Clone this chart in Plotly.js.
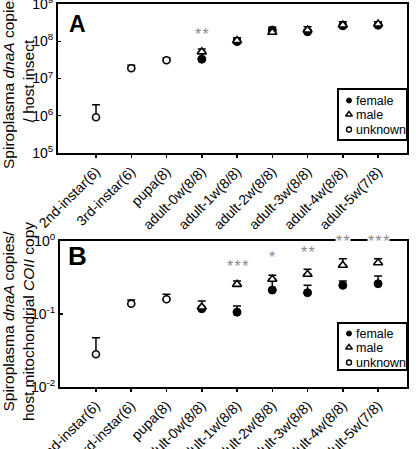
<!DOCTYPE html>
<html><head><meta charset="utf-8">
<script src="https://cdn.plot.ly/plotly-3.0.1.min.js"></script>
<style>html,body{margin:0;padding:0;background:#fff;}#chart{width:416px;height:449px;}</style>
</head><body><div id="chart"></div>
<script>
// ---------- data ----------
const categories = ['2nd-instar(6)','3rd-instar(6)','pupa(8)','adult-0w(8/8)','adult-1w(8/8)',
  'adult-2w(8/8)','adult-3w(8/8)','adult-4w(8/8)','adult-5w(7/8)'];
const seriesNames = ['female','male','unknown'];

// Panel A: Spiroplasma dnaA copies / host insect (mean, upper error)
const femaleA    = [null,null,null,3.3e7,9.8e7,2.0e8,1.8e8,2.6e8,2.7e8];
const femaleAErr = [null,null,null,1.5e7,1.5e7,3.7e7,2.0e7,1.5e7,2.0e7];
const maleA      = [null,null,null,5.2e7,1.04e8,1.74e8,2.0e8,2.73e8,2.9e8];
const maleAErr   = [null,null,null,1.0e7,2.0e7,2.0e7,4.4e7,6.2e7,4.5e7];
const unknownA   = [9.1e5,1.88e7,3.09e7,null,null,null,null,null,null];
const unknownAErr= [1.05e6,3.8e6,4.6e6,null,null,null,null,null,null];
const sigA       = ['','','','**','','','','',''];
const sigAY      = [null,null,null,1.5e8,null,null,null,null,null];

// Panel B: Spiroplasma dnaA copies / host mitochondrial COII copy
const femaleB    = [null,null,null,0.118,0.106,0.213,0.196,0.247,0.260];
const femaleBErr = [null,null,null,0.005,0.023,0.070,0.051,0.036,0.072];
const maleB      = [null,null,null,0.125,0.255,0.299,0.350,0.465,0.505];
const maleBErr   = [null,null,null,0.026,0.028,0.040,0.060,0.107,0.067];
const unknownB   = [0.0281,0.138,0.159,null,null,null,null,null,null];
const unknownBErr= [0.019,0.018,0.027,null,null,null,null,null,null];
const sigB       = ['','','','','***','*','**','**','***'];
const sigBY      = [null,null,null,null,0.445,0.60,0.69,1.0,1.0];

const yTicksA = [1e5,1e6,1e7,1e8,1e9];
const yTickTextA = ['10<sup>5</sup>','10<sup>6</sup>','10<sup>7</sup>','10<sup>8</sup>','10<sup>9</sup>'];
const yTicksB = [1e-2,1e-1,1];
const yTickTextB = ['10<sup>-2</sup>','10<sup>-1</sup>','10<sup>0</sup>'];

// ---------- styles ----------
const W = 416, H = 449;
const FONT = 'Liberation Sans, Arial, Helvetica, sans-serif';
const styles = {
  female:  {symbol:'circle', size:8, color:'#000', line:{color:'#000', width:1}},
  male:    {symbol:'triangle-up', size:8, color:'#fff', line:{color:'#000', width:1.6}},
  unknown: {symbol:'circle', size:7, color:'#fff', line:{color:'#000', width:1.6}}
};
const legendStyles = {
  female:  {symbol:'circle', size:5, color:'#000', line:{color:'#000', width:1}},
  male:    {symbol:'triangle-up', size:6, color:'#fff', line:{color:'#000', width:1.4}},
  unknown: {symbol:'circle', size:5, color:'#fff', line:{color:'#000', width:1.4}}
};

function errObj(arr){
  return {type:'data', symmetric:false, array:arr, arrayminus:arr.map(v=>v==null?null:0),
          color:'#000', thickness:1.5, width:4};
}
function mk(name, y, err, xa, ya){
  return {type:'scatter', mode:'markers', x:categories, y:y, name:name, xaxis:xa, yaxis:ya,
          marker:styles[name], error_y:errObj(err), showlegend:false, cliponaxis:false};
}

const traces = [
  mk('female', femaleA, femaleAErr, 'x', 'y'),
  mk('male', maleA, maleAErr, 'x', 'y'),
  mk('unknown', unknownA, unknownAErr, 'x', 'y'),
  mk('female', femaleB, femaleBErr, 'x2', 'y2'),
  mk('male', maleB, maleBErr, 'x2', 'y2'),
  mk('unknown', unknownB, unknownBErr, 'x2', 'y2')
];

// custom legends (pixel overlay axes x3/y3)
const legendBoxes = [{x0:338,x1:407,y0:89,y1:140,rows:[100.5,114.5,129.5]},
                     {x0:338,x1:407,y0:323,y1:370,rows:[333.5,347.5,362.5]}];
const shapes = [];
const annotations = [];
seriesNames.forEach((nm,i)=>{
  traces.push({type:'scatter', mode:'markers', xaxis:'x3', yaxis:'y3', showlegend:false,
    x:legendBoxes.map(()=>349), y:legendBoxes.map(b=>b.rows[i]), marker:legendStyles[nm], hoverinfo:'skip'});
  legendBoxes.forEach(b=>{
    annotations.push({xref:'x3', yref:'y3', x:354, y:b.rows[i], xanchor:'left', yanchor:'middle',
      text:nm, showarrow:false, font:{family:FONT, size:12.5, color:'#000'}});
  });
});
legendBoxes.forEach(b=>shapes.push({type:'rect', xref:'x3', yref:'y3', x0:b.x0, x1:b.x1, y0:b.y0, y1:b.y1,
  line:{color:'#000', width:2}, fillcolor:'rgba(0,0,0,0)', layer:'above'}));

// significance stars
function stars(sig, sy, xa, ya){
  sig.forEach((s,i)=>{
    if(!s) return;
    annotations.push({xref:xa, yref:ya, x:categories[i], y:Math.log10(sy[i]), text:s.split('').join('\u200A'),
      showarrow:false, xanchor:'center', yanchor:'middle', font:{family:FONT, size:16, color:'#8a8a8a'},
      bgcolor: sy[i] >= 1 && ya==='y2' ? '#fff' : 'rgba(0,0,0,0)', borderpad:0});
  });
}
stars(sigA, sigAY, 'x', 'y');
stars(sigB, sigBY, 'x2', 'y2');

// panel letters
annotations.push({xref:'paper', yref:'paper', x:67/W, y:1-9/H, xanchor:'left', yanchor:'top', text:'<b>A</b>',
  showarrow:false, font:{family:FONT, size:23, color:'#000'}});
annotations.push({xref:'paper', yref:'paper', x:66/W, y:1-239/H, xanchor:'left', yanchor:'top', text:'<b>B</b>',
  showarrow:false, font:{family:FONT, size:26, color:'#000'}});

// y-axis titles
annotations.push({xref:'paper', yref:'paper', x:18/W, y:1-81/H, xanchor:'center', yanchor:'middle', textangle:-90,
  text:'Spiroplasma <i>dnaA</i> copies<br>/ host insect', showarrow:false,
  font:{family:FONT, size:15.5, color:'#000'}});
annotations.push({xref:'paper', yref:'paper', x:18/W, y:1-322/H, xanchor:'center', yanchor:'middle', textangle:-90,
  text:'Spiroplasma <i>dnaA</i> copies/<br>host mitochondrial <i>COII</i> copy', showarrow:false,
  font:{family:FONT, size:15.5, color:'#000'}});

const xBase = {type:'category', categoryarray:categories, tickangle:-45, ticks:'outside', ticklen:3,
  tickwidth:1.5, tickcolor:'#000', showline:true, mirror:true, linewidth:2, linecolor:'#000',
  showgrid:false, zeroline:false, tickfont:{family:FONT, size:14, color:'#000'}, fixedrange:true,
  ticklabeloverflow:'allow'};
const yBase = {type:'log', ticks:'inside', ticklen:3, tickwidth:1.5, tickcolor:'#000', showline:true,
  mirror:true, linewidth:2, linecolor:'#000', showgrid:false, zeroline:false,
  tickfont:{family:FONT, size:14, color:'#000'}, fixedrange:true, ticklabeloverflow:'allow'};

const layout = {
  width:W, height:H, margin:{l:0,r:0,t:0,b:0}, paper_bgcolor:'#fff', plot_bgcolor:'rgba(0,0,0,0)',
  showlegend:false, font:{family:FONT, color:'#000'},
  xaxis: Object.assign({}, xBase, {domain:[58/W, 407/W], range:[-1.078, 8.82], anchor:'y'}),
  yaxis: Object.assign({}, yBase, {domain:[1-153/H, 1-4/H], range:[4.9995,9.0005], tickvals:yTicksA, ticktext:yTickTextA, anchor:'x'}),
  xaxis2: Object.assign({}, xBase, {domain:[60/W, 407/W], range:[-1.02, 8.82], anchor:'y2'}),
  yaxis2: Object.assign({}, yBase, {domain:[1-387/H, 1-241/H], range:[-2.0005,0.0005], tickvals:yTicksB, ticktext:yTickTextB, anchor:'x2'}),
  xaxis3: {domain:[0,1], range:[0,W], visible:false, anchor:'y3', fixedrange:true},
  yaxis3: {domain:[0,1], range:[H,0], visible:false, anchor:'x3', fixedrange:true},
  shapes: shapes, annotations: annotations
};
Plotly.newPlot('chart', traces, layout, {staticPlot:true, displayModeBar:false});
</script></body></html>
